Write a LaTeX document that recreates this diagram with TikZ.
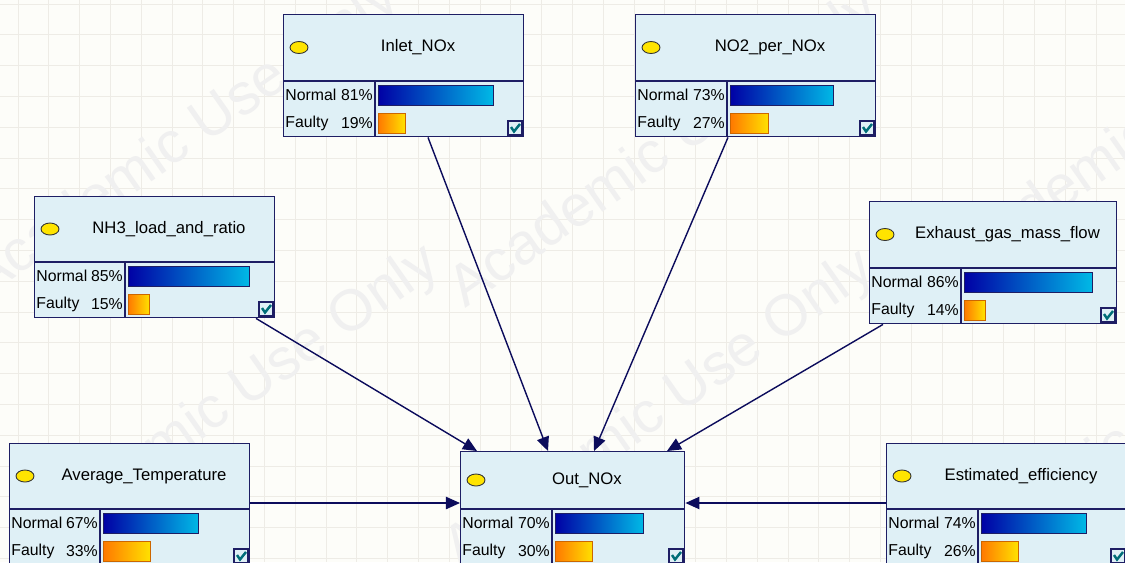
\documentclass[tikz,border=0pt]{standalone}
\usepackage{fontspec}
\setmainfont{Liberation Sans}
\usetikzlibrary{arrows.meta,shapes.geometric}
\definecolor{paper}{RGB}{253,253,249}
\definecolor{gridline}{RGB}{238,236,230}
\definecolor{boxfill}{RGB}{223,240,246}
\definecolor{navy}{RGB}{30,30,100}
\definecolor{arrowcol}{RGB}{12,12,92}
\definecolor{barblueA}{RGB}{0,0,165}
\definecolor{barblueB}{RGB}{0,185,230}
\definecolor{barorA}{RGB}{255,120,0}
\definecolor{barorB}{RGB}{255,225,0}
\definecolor{ovalyellow}{RGB}{255,228,0}
\definecolor{checkteal}{RGB}{0,110,120}
\tikzset{
    %Define standard arrow tip
    >={Triangle[length=8pt,width=7pt]},
    netbox/.style={
      rectangle,
      draw=navy, line width=0.8pt,
      fill=boxfill,
      inner sep=0pt,
      anchor=north west},
    boxline/.style={draw=navy, line width=0.8pt},
    stateoval/.style={
      ellipse,
      draw=black!80, line width=0.5pt,
      fill=ovalyellow,
      minimum width=18*0.02cm, minimum height=12*0.02cm,
      inner sep=0pt},
    title/.style={font=\fontsize{9.5}{11}\selectfont, inner sep=0pt},
    rowtext/.style={font=\fontsize{9}{11}\selectfont, inner sep=0pt},
    normalbar/.style={draw=navy, line width=0.4pt,
      left color=barblueA, right color=barblueB},
    faultybar/.style={draw=orange!80!black, line width=0.4pt,
      left color=barorA, right color=barorB},
    checkbox/.style={draw=navy, line width=0.7pt, fill=boxfill},
    checkmark/.style={draw=checkteal, line width=1.4pt},
    link/.style={->, draw=arrowcol, line width=0.8pt},
    watermark/.style={text=black!6, rotate=35,
      font=\fontsize{33}{33}\selectfont},
}
% #1 name, #2 left, #3 top, #4 width, #5 header height,
% #6 divider, #7 title, #8 normal, #9 faulty
\newcommand{\bnnode}[9]{%
  \pgfmathsetmacro\bw{#4*0.02}%
  \pgfmathsetmacro\bh{(#5+55)*0.02}%
  \pgfmathsetmacro\nbar{#8/100*(#4-#6-6)}%
  \pgfmathsetmacro\fbar{#9/100*(#4-#6-6)}%
  \node (#1) [netbox, minimum width=\bw cm, minimum height=\bh cm] at (#2,#3) {};
  \begin{scope}[shift={(#2,#3)}]
    \draw[boxline] (0,#5) -- (#4,#5);
    \draw[boxline] (#6,#5) -- (#6,#5+55);
    \node (#1-oval) [stateoval] at (16,#5/2) {};
    \node (#1-title) [title] at ({(#4+30)/2},#5/2) {#7};
    \node (#1-n) [rowtext, anchor=west] at (2,#5+14) {Normal};
    \node (#1-np) [rowtext, anchor=east] at (#6-2,#5+14) {#8\%};
    \node (#1-f) [rowtext, anchor=west] at (2,#5+42) {Faulty};
    \node (#1-fp) [rowtext, anchor=east] at (#6-2,#5+42) {#9\%};
    \draw[normalbar] (#6+3,#5+4) rectangle (#6+3+\nbar,#5+24);
    \draw[faultybar] (#6+3,#5+32) rectangle (#6+3+\fbar,#5+52);
    \draw[checkbox] (#4-15,#5+40) rectangle (#4-1,#5+54);
    \draw[checkmark] (#4-12,#5+46) -- (#4-9,#5+50.5) -- (#4-3,#5+43);
  \end{scope}}

\begin{document}
\begin{tikzpicture}[x=0.02cm, y=-0.02cm]
  \useasboundingbox (0,0) rectangle (1125,562);
  \clip (0,0) rectangle (1125,562);
  \fill[paper] (0,0) rectangle (1125,562);
  % grid
  \foreach \gx in {0,...,36}
    \draw[gridline, line width=0.4pt] (18+\gx*30.8,0) -- (18+\gx*30.8,562);
  \foreach \gy in {0,...,18}
    \draw[gridline, line width=0.4pt] (0,4+\gy*30.8) -- (1125,4+\gy*30.8);
  % watermark
  \foreach \wx/\wy [count=\wi] in {185/140, 665/150, 1150/130, 225/405, 660/410, 1130/440}
    \node (wm\wi) [watermark] at (\wx,\wy) {Academic Use Only};

  \bnnode{inlet}{283}{14}{240}{67}{92}{Inlet\_NOx}{81}{19}
  \bnnode{no2}{635}{14}{240}{67}{92}{NO2\_per\_NOx}{73}{27}
  \bnnode{nh3}{34}{196}{240}{66}{91}{NH3\_load\_and\_ratio}{85}{15}
  \bnnode{exh}{869}{201}{247}{67}{92}{Exhaust\_gas\_mass\_flow}{86}{14}
  \bnnode{avg}{9}{443}{240}{66}{91}{Average\_Temperature}{67}{33}
  \bnnode{out}{460}{451}{224}{58}{92}{Out\_NOx}{70}{30}
  \bnnode{est}{886}{443}{240}{66}{92}{Estimated\_efficiency}{74}{26}

  \draw[link] ([shift={(145,0)}]inlet.south west) -- ([shift={(88,0)}]out.north west);
  \draw[link] ([shift={(93,0)}]no2.south west) -- ([shift={(134,0)}]out.north west);
  \draw[link] ([shift={(222,0)}]nh3.south west) -- ([shift={(17,0)}]out.north west);
  \draw[link] ([shift={(14,0)}]exh.south west) -- ([shift={(207,0)}]out.north west);
  \draw[link] ([shift={(0,60)}]avg.north east) -- ([shift={(0,52)}]out.north west);
  \draw[link] ([shift={(0,60)}]est.north west) -- ([shift={(0,52)}]out.north east);
\end{tikzpicture}
\end{document}
